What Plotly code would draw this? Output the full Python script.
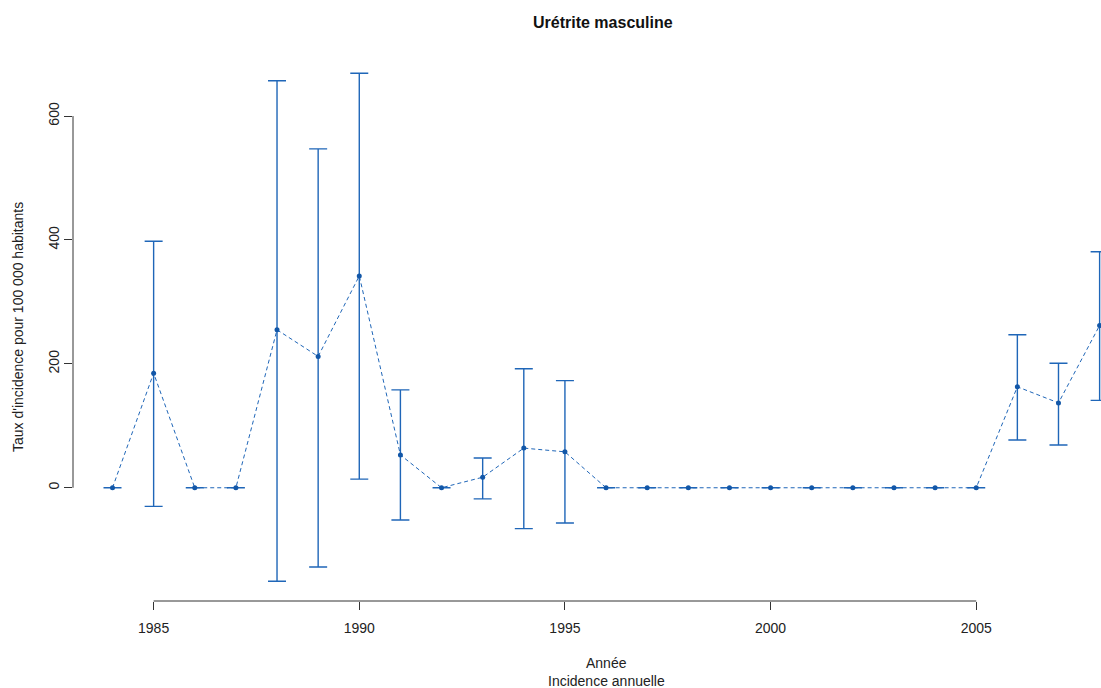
import plotly.graph_objects as go

# Annual incidence of male urethritis, with confidence bounds
years = list(range(1984, 2009))
rate = [0, 185, 0, 0, 255, 212, 342, 53, 0, 17, 64, 58,
        0, 0, 0, 0, 0, 0, 0, 0, 0, 0, 163, 137, 262]
lower = [0, -30, 0, 0, -151, -128, 14, -52, 0, -18, -66, -57,
         0, 0, 0, 0, 0, 0, 0, 0, 0, 0, 77, 69, 141]
upper = [0, 398, 0, 0, 657, 547, 669, 158, 0, 48, 192, 173,
         0, 0, 0, 0, 0, 0, 0, 0, 0, 0, 247, 201, 381]

x_ticks = [1985, 1990, 1995, 2000, 2005]
y_ticks = [0, 200, 400, 600]

title = "Urétrite masculine"
x_title = "Année"
x_subtitle = "Incidence annuelle"
y_title = "Taux d'incidence pour 100 000 habitants"

BLUE = "#1f66b8"
FONT = "Liberation Sans, Arial, sans-serif"

err_plus = [u - r for u, r in zip(upper, rate)]
err_minus = [r - l for r, l in zip(rate, lower)]

fig = go.Figure()
fig.add_trace(go.Scatter(
    x=years, y=rate, mode="lines+markers",
    line=dict(color=BLUE, width=1, dash="4px,3px"),
    marker=dict(color="#1257a8", size=5),
    error_y=dict(type="data", array=err_plus, arrayminus=err_minus,
                 symmetric=False, color=BLUE, thickness=1.4, width=9),
    showlegend=False,
))

W, H = 1101, 688
L, T, B = 73, 53, 87
plot_w = W - L
px_per_year = 41.13
x0 = 1984 - (112.5 - L) / px_per_year
x1 = x0 + plot_w / px_per_year

fig.update_layout(
    width=W, height=H,
    margin=dict(l=L, r=0, t=T, b=B),
    plot_bgcolor="white", paper_bgcolor="white",
    font=dict(family=FONT, size=14, color="#222"),
    showlegend=False,
    xaxis=dict(range=[x0, x1], tickvals=x_ticks, ticktext=[str(v) for v in x_ticks],
               ticks="outside", ticklen=8, tickcolor="#333", showgrid=False,
               zeroline=False, showline=False, tickfont=dict(size=14),
               ticklabelstandoff=6),
    yaxis=dict(range=[-182.8, 701.8], tickvals=y_ticks, ticktext=[str(v) for v in y_ticks],
               ticks="outside", ticklen=8, tickcolor="#333", showgrid=False,
               zeroline=False, showline=False, tickangle=-90, tickfont=dict(size=14),
               ticklabelstandoff=-1),
    shapes=[
        dict(type="line", xref="x", yref="paper", x0=x_ticks[0], x1=x_ticks[-1],
             y0=0, y1=0, line=dict(color="#333", width=1)),
        dict(type="line", xref="paper", yref="y", x0=0, x1=0,
             y0=y_ticks[0], y1=y_ticks[-1], line=dict(color="#333", width=1)),
    ],
)

def px_to_paper(px):
    return (px - L) / plot_w

fig.add_annotation(text="<b>" + title + "</b>", xref="paper", yref="paper",
                   x=px_to_paper(603), y=1, yanchor="middle", yshift=31,
                   showarrow=False, font=dict(size=16, color="#111"))
fig.add_annotation(text=x_title, xref="paper", yref="paper", x=px_to_paper(606), y=0,
                   yanchor="middle", yshift=-62, showarrow=False, font=dict(size=14))
fig.add_annotation(text=x_subtitle, xref="paper", yref="paper", x=px_to_paper(606), y=0,
                   yanchor="middle", yshift=-80, showarrow=False, font=dict(size=14))
fig.add_annotation(text=y_title, xref="paper", yref="paper", x=0, y=0.5,
                   xanchor="center", xshift=-55, textangle=-90, showarrow=False,
                   font=dict(size=14))

fig.write_html("out.html")
